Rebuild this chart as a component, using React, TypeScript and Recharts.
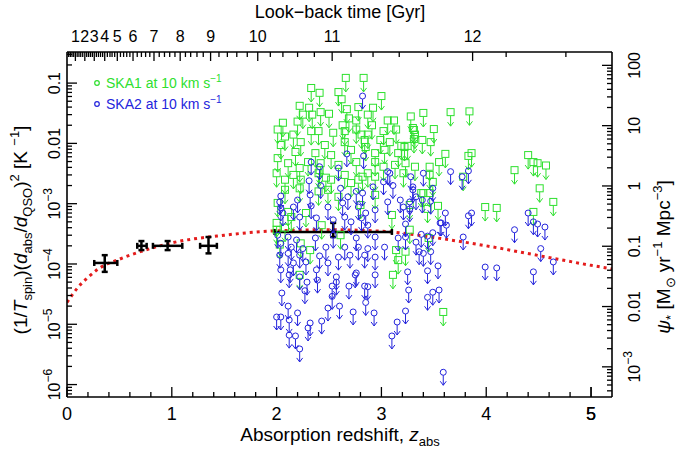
import React from "react";
import { ComposedChart, XAxis, YAxis, Scatter, Line, ErrorBar } from "recharts";

const W = 679;
const H = 454;
const FONT = "'Liberation Sans', Arial, sans-serif";
const GREEN = "#2ee02e";
const BLUE = "#2424dc";
const RED = "#e41c1c";

// SKA1 upper limits at 10 km/s: [z_abs, limit]
const ska1Limits: [number, number][] = [
	[2.66, 0.122], [2.83, 0.122], [2.33, 0.083], [2.41, 0.069], [2.59, 0.071], [2.62, 0.054],
	[3.0, 0.061], [2.22, 0.042], [2.31, 0.039], [2.67, 0.037], [2.78, 0.04], [2.42, 0.033],
	[2.5, 0.031], [2.25, 0.03], [2.34, 0.03], [2.87, 0.03], [2.92, 0.039], [3.28, 0.028],
	[3.4, 0.032], [2.69, 0.026], [2.76, 0.024], [3.06, 0.024], [3.12, 0.024], [2.06, 0.022],
	[2.2, 0.023], [2.91, 0.02], [2.63, 0.02], [2.01, 0.017], [2.16, 0.014], [2.33, 0.016],
	[2.4, 0.016], [2.54, 0.015], [2.65, 0.016], [2.76, 0.017], [2.81, 0.014], [2.87, 0.014],
	[3.02, 0.016], [3.14, 0.017], [3.3, 0.018], [3.32, 0.014], [2.08, 0.013], [2.23, 0.0105],
	[2.46, 0.0094], [2.65, 0.0105], [2.84, 0.0114], [2.99, 0.0114], [3.08, 0.0105], [3.19, 0.0091],
	[3.39, 0.0114], [3.25, 0.0091], [2.04, 0.0094], [2.18, 0.0072], [2.37, 0.0069], [2.52, 0.0064],
	[2.71, 0.0078], [2.85, 0.0087], [2.94, 0.0069], [3.03, 0.0078], [3.16, 0.0069], [2.01, 0.0057],
	[2.11, 0.0047], [2.3, 0.0049], [2.42, 0.0047], [2.59, 0.0044], [2.76, 0.0049], [2.94, 0.0049],
	[3.02, 0.0041], [3.13, 0.0044], [3.23, 0.0047], [3.32, 0.0041], [2.22, 0.0039], [2.41, 0.0036],
	[3.66, 0.033], [3.84, 0.034], [3.31, 0.0167], [3.5, 0.0173], [3.22, 0.0087], [3.31, 0.0118],
	[3.47, 0.0105], [3.61, 0.0067], [3.86, 0.0069], [3.83, 0.0062], [3.55, 0.0049], [3.46, 0.0041],
	[3.21, 0.0032], [3.46, 0.003], [3.78, 0.0028], [3.49, 0.0023], [4.27, 0.0036], [4.4, 0.0064],
	[4.45, 0.0049], [4.49, 0.0047], [4.57, 0.0043], [4.51, 0.0018], [4.64, 0.00107], [3.99, 0.00088],
	[4.1, 0.00085], [4.45, 0.00073], [3.4, 0.0015], [3.46, 0.0015], [3.54, 0.00092], [3.44, 0.00082],
	[3.27, 0.00037], [3.23, 0.00016], [3.59, 0.000016], [3.45, 0.00027], [2.03, 0.00021], [2.23, 0.00022],
	[2.32, 0.00017], [3.16, 0.000116], [3.14, 0.00017], [2.0, 0.00048], [2.14, 0.0006], [2.59, 0.0013],
	[2.94, 0.0014], [3.38, 0.0015], [2.82, 0.0028], [2.08, 0.0025], [2.23, 0.0025], [2.52, 0.0025],
	[2.71, 0.0022], [2.94, 0.0028], [2.0, 0.0032], [2.16, 0.003], [2.4, 0.0032], [2.47, 0.0027],
	[2.65, 0.003], [2.78, 0.0025], [2.87, 0.0032], [2.08, 0.0017], [2.22, 0.0018], [2.4, 0.0016],
	[2.49, 0.0017], [2.01, 0.00103], [2.11, 0.00073], [2.28, 0.0007], [2.0, 0.00037], [2.08, 0.0004],
	[3.11, 0.000066], [2.22, 0.000066], [2.43, 0.00044], [2.61, 0.0003], [2.8, 0.00095], [3.1, 0.00065],
	[3.27, 0.00095],
];

// SKA2 upper limits at 10 km/s: [z_abs, limit]
const ska2Limits: [number, number][] = [
	[2.82, 0.061], [2.67, 0.0067], [2.83, 0.0062], [2.33, 0.0049], [2.41, 0.0041], [2.59, 0.0039],
	[3.06, 0.0034], [3.4, 0.0032], [3.28, 0.0028], [3.66, 0.0034], [3.83, 0.0035], [3.77, 0.0028],
	[3.3, 0.0017], [3.39, 0.00115], [3.47, 0.0011], [3.49, 0.0018], [3.21, 0.00088], [3.27, 0.00082],
	[3.86, 0.0007], [3.83, 0.00063], [3.61, 0.0007], [3.57, 0.00048], [4.4, 0.0007], [4.45, 0.0005],
	[4.49, 0.00046], [4.56, 0.00041], [4.27, 0.00037], [3.78, 0.00028], [3.23, 0.00046], [3.38, 0.00031],
	[3.44, 0.00029], [3.49, 0.00033], [3.56, 0.00048], [3.62, 0.00044], [3.36, 0.00016], [3.4, 0.00015],
	[3.47, 0.00016], [4.52, 0.00018], [4.64, 0.000108], [3.25, 0.000074], [3.44, 0.000077], [3.54, 0.000093],
	[3.99, 0.000089], [4.1, 0.000086], [4.45, 0.000074], [3.26, 0.000037], [3.44, 0.000028], [3.49, 0.000034],
	[3.55, 0.000037], [3.23, 0.0000166], [3.59, 0.0000016], [2.31, 0.0024], [2.42, 0.002], [3.08, 0.0032],
	[2.04, 0.00134], [2.03, 0.00107], [2.2, 0.00115], [2.32, 0.0014], [2.61, 0.0018], [2.68, 0.0013],
	[2.76, 0.0016], [2.82, 0.0015], [2.92, 0.0019], [3.02, 0.0023], [3.11, 0.002], [3.33, 0.0013],
	[3.3, 0.0019], [3.06, 0.00107], [3.18, 0.00115], [3.27, 0.00107], [2.04, 0.00085], [2.16, 0.00088],
	[2.33, 0.00092], [2.49, 0.00088], [2.63, 0.00103], [2.78, 0.00088], [2.85, 0.0007], [2.94, 0.00079],
	[2.06, 0.0007], [2.22, 0.0006], [2.38, 0.00058], [2.54, 0.00054], [2.65, 0.0006], [2.71, 0.0005],
	[2.81, 0.00058], [2.87, 0.00044], [2.01, 0.0003], [2.11, 0.00028], [2.19, 0.00025], [2.37, 0.00027],
	[2.54, 0.0003], [2.76, 0.00027], [2.94, 0.00028], [3.03, 0.00019], [3.16, 0.00027], [3.23, 0.00028],
	[3.33, 0.00023], [2.04, 0.00022], [2.14, 0.00019], [2.25, 0.00018], [2.47, 0.00019], [2.65, 0.00019],
	[2.78, 0.00019], [2.87, 0.00018], [2.03, 0.00014], [2.11, 0.00015], [2.22, 0.00014], [2.41, 0.000136],
	[2.59, 0.00013], [2.7, 0.00014], [2.84, 0.00014], [2.94, 0.00013], [2.04, 0.00008], [2.13, 0.00008],
	[2.38, 0.00008], [2.57, 0.000061], [2.75, 0.000066], [2.16, 0.000104], [2.28, 0.000108], [2.49, 0.000104],
	[2.12, 0.000066], [2.22, 0.000061], [2.29, 0.00005], [2.39, 0.000054], [2.76, 0.000071], [2.94, 0.000066],
	[2.05, 0.000033], [2.27, 0.000036], [2.53, 0.000043], [2.57, 0.00005], [2.69, 0.000043], [2.84, 0.000043],
	[2.87, 0.000042], [2.53, 0.000029], [2.11, 0.00002], [2.49, 0.0000186], [2.6, 0.00002], [2.73, 0.000016],
	[2.85, 0.000023], [2.0, 0.0000132], [2.04, 0.0000132], [2.2, 0.0000154], [2.93, 0.0000154], [2.12, 0.0000118],
	[2.32, 0.0000105], [2.43, 0.0000113], [3.15, 0.0000109], [2.3, 0.0000087], [2.12, 0.0000066], [2.18, 0.0000064],
	[3.1, 0.0000064], [2.22, 0.0000039],
];

// star formation history curve (dotted red)
const sfrZ = [0, 0.1, 0.2, 0.3, 0.5, 0.7, 1.0, 1.5, 2.0, 2.5, 3.0, 3.5, 4.0, 4.5, 5.0, 5.2];
const sfrV = [2.3e-5, 4.0e-5, 6.0e-5, 8.3e-5, 1.2e-4, 1.6e-4, 2.24e-4, 3.0e-4, 3.55e-4, 3.7e-4, 3.5e-4, 2.75e-4, 2.0e-4, 1.38e-4, 9.5e-5, 8.3e-5];

// detections with error bars
const measZ = [0.36, 0.71, 0.96, 1.35, 2.54];
const measZLo = [0.26, 0.67, 0.82, 1.27, 1.98];
const measZHi = [0.48, 0.76, 1.1, 1.43, 3.1];
const measV = [1.04e-4, 2.0e-4, 2.0e-4, 2.0e-4, 3.4e-4];
const measVLo = [7.4e-5, 1.7e-4, 1.7e-4, 1.5e-4, 2.8e-4];
const measVHi = [1.4e-4, 2.4e-4, 2.4e-4, 2.8e-4, 4.8e-4];

// axes
const zMajor = [0, 1, 2, 3, 4, 5];
const zMinor = [0.2, 0.4, 0.6, 0.8, 1.2, 1.4, 1.6, 1.8, 2.2, 2.4, 2.6, 2.8, 3.2, 3.4, 3.6, 3.8, 4.2, 4.4, 4.6, 4.8, 5.0];
const lookbackGyr = [1, 2, 3, 4, 5, 6, 7, 8, 9, 10, 11, 12];
const lookbackZ = [0.08, 0.17, 0.26, 0.36, 0.48, 0.63, 0.83, 1.08, 1.37, 1.82, 2.53, 3.87];
const lookbackMinorZ = [
	0.016, 0.032, 0.048, 0.064, 0.097, 0.114, 0.131, 0.15, 0.188, 0.206, 0.224, 0.242, 0.28, 0.3, 0.32, 0.34,
	0.385, 0.41, 0.43, 0.455, 0.51, 0.54, 0.57, 0.6, 0.67, 0.71, 0.75, 0.79, 0.88, 0.93, 0.98, 1.03,
	1.13, 1.18, 1.24, 1.3, 1.45, 1.53, 1.62, 1.72, 1.94, 2.06, 2.2, 2.36, 2.71, 2.92, 3.17, 3.44, 4.19, 4.76,
];
const logMultipliers = [1, 2, 3, 4, 5, 6, 7, 8, 9];
const leftDecades = [-7, -6, -5, -4, -3, -2, -1];
const rightDecades = [-4, -3, -2, -1, 0, 1, 2];
const leftDomain: [number, number] = [6.22e-7, 0.328];
const rightDomain: [number, number] = [3.16e-4, 166.6];

const ska1Rows = ska1Limits.map(([z, v]) => ({ z, v }));
const ska2Rows = ska2Limits.map(([z, v]) => ({ z, v }));
const sfrRows = sfrZ.map((z, i) => ({ z, v: sfrV[i] }));
const measRows = measZ.map((z, i) => ({
	z,
	v: measV[i],
	ex: [z - measZLo[i], measZHi[i] - z],
	ey: [measV[i] - measVLo[i], measVHi[i] - measV[i]],
}));

const logTicks = (decades: number[], dom: [number, number]) =>
	decades
		.flatMap((d) => logMultipliers.map((m) => Number((m * Math.pow(10, d)).toPrecision(3))))
		.filter((t) => t >= dom[0] && t <= dom[1]);
const leftTicks = logTicks(leftDecades, leftDomain);
const rightTicks = logTicks(rightDecades, rightDomain);
const bottomTicks = [...zMajor, ...zMinor].sort((a, b) => a - b);
const topTicks = [...lookbackZ, ...lookbackMinorZ].sort((a, b) => a - b);

const isDecade = (v: number) => Math.abs(Math.log10(v) - Math.round(Math.log10(v))) < 1e-6;

function PowText({ v, x, y }: { v: number; x: number; y: number }) {
	const e = Math.round(Math.log10(v));
	const plain = e >= 0 ? String(Math.pow(10, e)) : e === -1 ? "0.1" : e === -2 ? "0.01" : null;
	return (
		<text x={x} y={y} transform={`rotate(-90 ${x} ${y})`} textAnchor="middle" fontSize={16} fill="#000">
			{plain ?? (
				<>
					10
					<tspan dy={-8} fontSize={12}>
						{"\u2212" + Math.abs(e)}
					</tspan>
				</>
			)}
		</text>
	);
}

function LeftTick(p: any) {
	const { x, y, payload } = p;
	const major = isDecade(payload.value);
	return (
		<g>
			<line x1={x} x2={x + (major ? 10 : 5)} y1={y} y2={y} stroke="#000" strokeWidth={1.3} />
			{major && <PowText v={payload.value} x={x - 7} y={y} />}
		</g>
	);
}

function RightTick(p: any) {
	const { x, y, payload } = p;
	const major = isDecade(payload.value);
	return (
		<g>
			<line x1={x} x2={x - (major ? 10 : 5)} y1={y} y2={y} stroke="#000" strokeWidth={1.3} />
			{major && <PowText v={payload.value} x={x + 28} y={y} />}
		</g>
	);
}

function BottomTick(p: any) {
	const { x, y, payload } = p;
	const v = payload.value;
	const major = Math.abs(v - Math.round(v)) < 1e-6;
	return (
		<g>
			<line x1={x} x2={x} y1={y} y2={y - (major ? 10 : 5)} stroke="#000" strokeWidth={1.3} />
			{major && (
				<text x={x} y={y + 23} textAnchor="middle" fontSize={18} fill="#000">
					{Math.round(v)}
				</text>
			)}
		</g>
	);
}

function TopTick(p: any) {
	const { x, y, payload } = p;
	const idx = lookbackZ.indexOf(payload.value);
	const major = idx >= 0;
	return (
		<g>
			<line x1={x} x2={x} y1={y} y2={y + (major ? 9 : 5)} stroke="#000" strokeWidth={1.3} />
			{major && (
				<text x={x} y={y - 10} textAnchor="middle" fontSize={16} fill="#000">
					{lookbackGyr[idx]}
				</text>
			)}
		</g>
	);
}

function SquareLimit(p: any) {
	const { cx, cy } = p;
	if (cx == null || cy == null) return <g />;
	return (
		<g fill="none" stroke={GREEN} strokeWidth={1}>
			<rect x={cx - 3.5} y={cy - 3.5} width={7} height={7} />
			<line x1={cx} y1={cy + 3.5} x2={cx} y2={cy + 14} />
			<polyline points={`${cx - 3},${cy + 10} ${cx},${cy + 14} ${cx + 3},${cy + 10}`} />
		</g>
	);
}

function CircleLimit(p: any) {
	const { cx, cy } = p;
	if (cx == null || cy == null) return <g />;
	return (
		<g fill="none" stroke={BLUE} strokeWidth={1}>
			<circle cx={cx} cy={cy} r={3} />
			<line x1={cx} y1={cy + 3} x2={cx} y2={cy + 13} />
			<polyline points={`${cx - 3},${cy + 9} ${cx},${cy + 13} ${cx + 3},${cy + 9}`} />
		</g>
	);
}

const axisLine = { stroke: "#000", strokeWidth: 1.6 };

export default function App() {
	return (
		<div style={{ position: "absolute", left: 0, top: 0, width: W, height: H, background: "#fff", fontFamily: FONT }}>
			<ComposedChart width={W} height={H} margin={{ top: 22, right: 17, bottom: 27, left: 17 }}>
				<XAxis
					xAxisId="bottom"
					dataKey="z"
					type="number"
					domain={[0, 5.2]}
					allowDataOverflow
					ticks={bottomTicks}
					interval={0}
					tickLine={false}
					tickSize={0}
					tickMargin={0}
					height={30}
					axisLine={axisLine}
					tick={(p: any) => <BottomTick {...p} />}
				/>
				<XAxis
					xAxisId="top"
					orientation="top"
					dataKey="z"
					type="number"
					domain={[0, 5.2]}
					allowDataOverflow
					ticks={topTicks}
					interval={0}
					tickLine={false}
					tickSize={0}
					tickMargin={0}
					height={30}
					axisLine={axisLine}
					tick={(p: any) => <TopTick {...p} />}
				/>
				<YAxis
					yAxisId="left"
					dataKey="v"
					type="number"
					scale="log"
					domain={leftDomain}
					allowDataOverflow
					ticks={leftTicks}
					interval={0}
					tickLine={false}
					tickSize={0}
					tickMargin={0}
					width={50}
					axisLine={axisLine}
					tick={(p: any) => <LeftTick {...p} />}
				/>
				<YAxis
					yAxisId="right"
					orientation="right"
					type="number"
					scale="log"
					domain={rightDomain}
					allowDataOverflow
					ticks={rightTicks}
					interval={0}
					tickLine={false}
					tickSize={0}
					tickMargin={0}
					width={50}
					axisLine={axisLine}
					tick={(p: any) => <RightTick {...p} />}
				/>
				<Scatter xAxisId="bottom" yAxisId="left" data={ska1Rows} shape={SquareLimit} isAnimationActive={false} />
				<Scatter xAxisId="bottom" yAxisId="left" data={ska2Rows} shape={CircleLimit} isAnimationActive={false} />
				<Line
					xAxisId="bottom"
					yAxisId="left"
					data={sfrRows}
					dataKey="v"
					type="monotone"
					stroke={RED}
					strokeWidth={3}
					strokeDasharray="3 4"
					dot={false}
					activeDot={false}
					isAnimationActive={false}
				/>
				<Scatter xAxisId="bottom" yAxisId="left" data={measRows} shape={() => <g />} isAnimationActive={false}>
					<ErrorBar dataKey="ex" direction="x" width={3} stroke="#000" strokeWidth={2.5} isAnimationActive={false} />
					<ErrorBar dataKey="ey" direction="y" width={3} stroke="#000" strokeWidth={2.5} isAnimationActive={false} />
				</Scatter>
			</ComposedChart>
			<svg
				width={W}
				height={H}
				style={{ position: "absolute", left: 0, top: 0, pointerEvents: "none" }}
				fontFamily={FONT}
			>
				<text x={340} y={18} textAnchor="middle" fontSize={18}>
					Look{"\u2212"}back time [Gyr]
				</text>
				<text x={340} y={441} textAnchor="middle" fontSize={19}>
					Absorption redshift,{" "}
					<tspan fontStyle="italic">z</tspan>
					<tspan dy={5} fontSize={13}>abs</tspan>
				</text>
				<text x={27} y={230} transform="rotate(-90 27 230)" textAnchor="middle" fontSize={19}>
					(1/<tspan fontStyle="italic">T</tspan>
					<tspan dy={5} fontSize={13}>spin</tspan>
					<tspan dy={-5}>)(</tspan>
					<tspan fontStyle="italic">d</tspan>
					<tspan dy={5} fontSize={13}>abs</tspan>
					<tspan dy={-5}>/</tspan>
					<tspan fontStyle="italic">d</tspan>
					<tspan dy={5} fontSize={13}>QSO</tspan>
					<tspan dy={-5}>)</tspan>
					<tspan dy={-8} fontSize={13}>2</tspan>
					<tspan dy={8}>{"  [K "}</tspan>
					<tspan dy={-8} fontSize={13}>{"\u22121"}</tspan>
					<tspan dy={8}>]</tspan>
				</text>
				<text x={670} y={257} transform="rotate(-90 670 257)" textAnchor="middle" fontSize={19}>
					<tspan fontStyle="italic">{"\u03c8"}</tspan>
					<tspan dy={5} fontSize={13}>*</tspan>
					<tspan dy={-5}>{" [M"}</tspan>
					<tspan dy={5} fontSize={13}>{"\u2299"}</tspan>
					<tspan dy={-5}>{" yr"}</tspan>
					<tspan dy={-8} fontSize={13}>{"\u22121"}</tspan>
					<tspan dy={8}>{" Mpc"}</tspan>
					<tspan dy={-8} fontSize={13}>{"\u22123"}</tspan>
					<tspan dy={8}>]</tspan>
				</text>
				<circle cx={97} cy={83} r={2.3} fill="none" stroke={GREEN} strokeWidth={1.2} />
				<text x={106} y={88} fontSize={14} fill={GREEN}>
					SKA1 at 10 km s<tspan dy={-6} fontSize={10}>{"\u22121"}</tspan>
				</text>
				<circle cx={97} cy={104} r={2.3} fill="none" stroke={BLUE} strokeWidth={1.2} />
				<text x={106} y={109} fontSize={14} fill={BLUE}>
					SKA2 at 10 km s<tspan dy={-6} fontSize={10}>{"\u22121"}</tspan>
				</text>
			</svg>
		</div>
	);
}
